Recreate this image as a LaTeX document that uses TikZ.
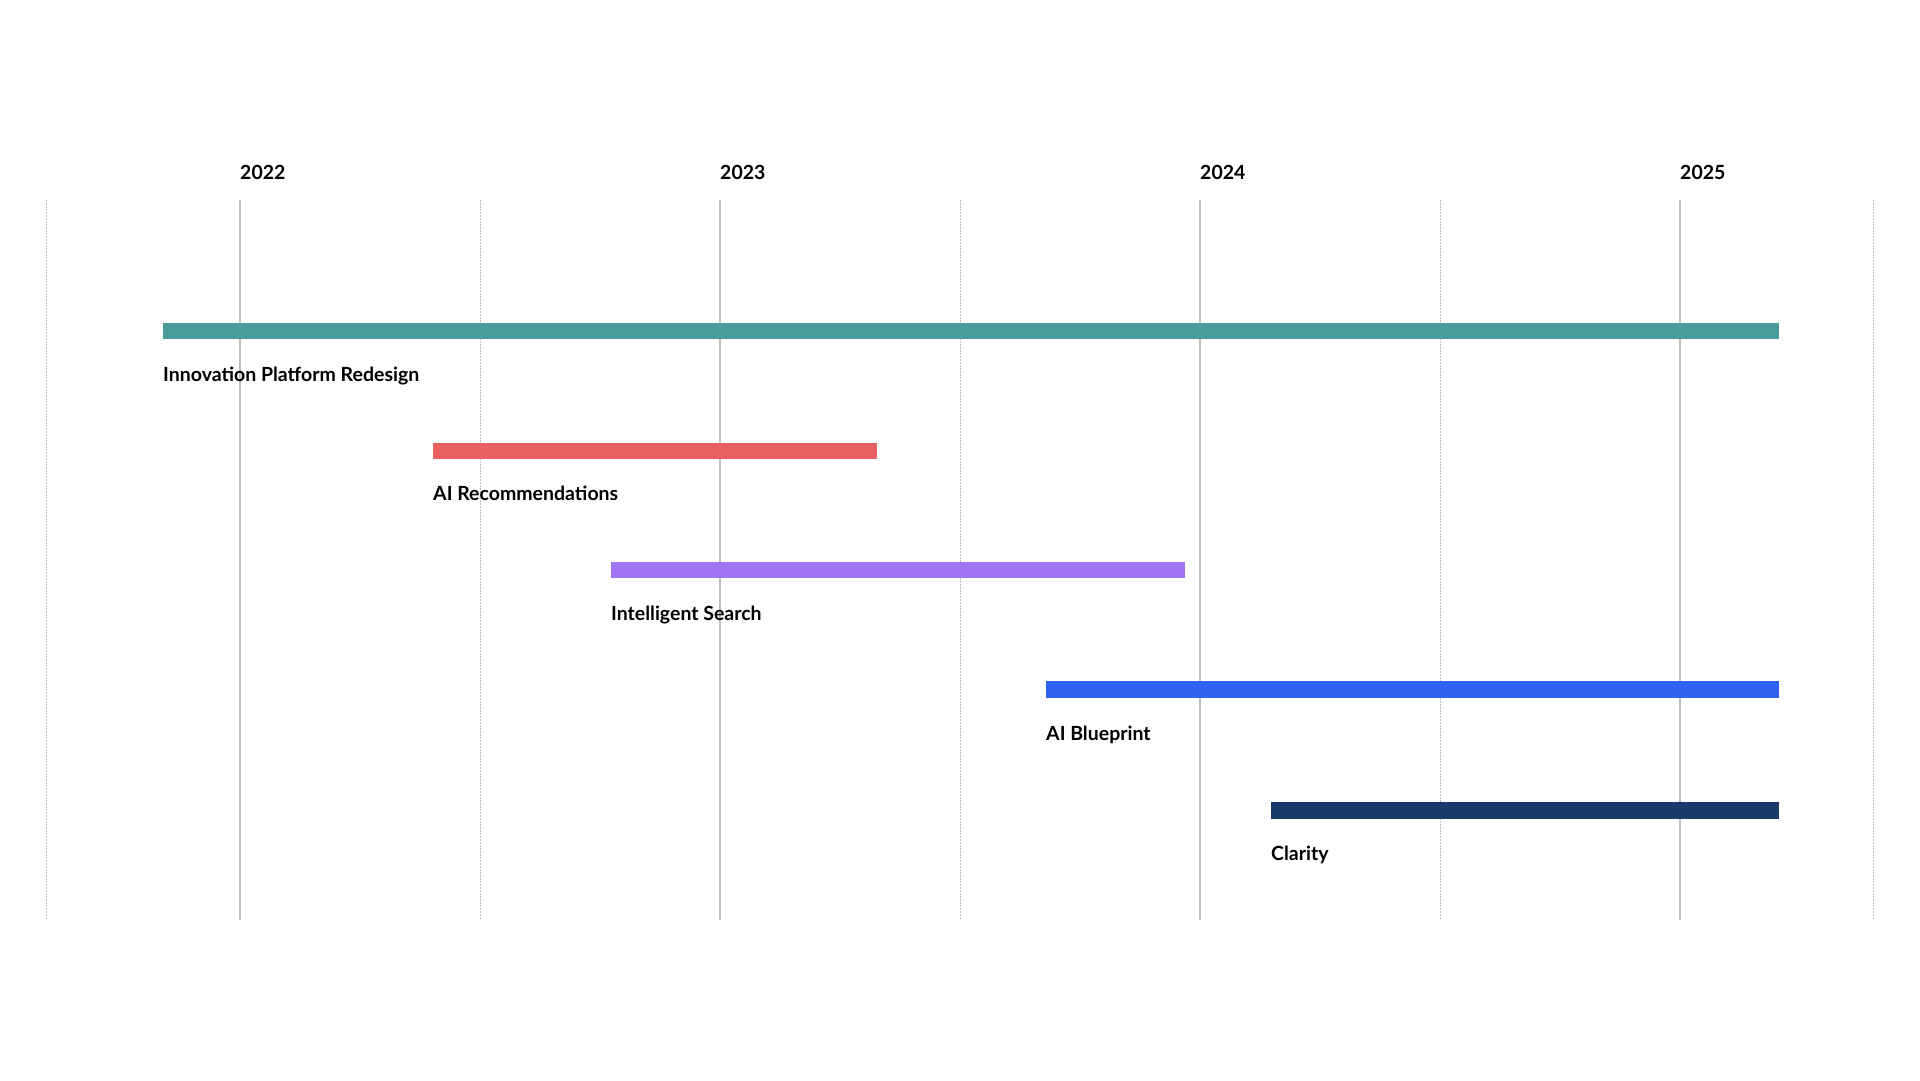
\documentclass[tikz,border=0pt]{standalone}
\usepackage{fontspec}
\setmainfont{Lato}
\definecolor{teal}{RGB}{74,156,153}
\definecolor{coral}{RGB}{232,96,96}
\definecolor{violet}{RGB}{160,116,245}
\definecolor{royal}{RGB}{47,98,240}
\definecolor{navy}{RGB}{26,58,108}
\definecolor{gridgray}{RGB}{190,190,190}
\tikzset{
  yearline/.style={gridgray, line width=1.5pt},
  halfline/.style={gridgray, line width=0.8pt, dash pattern=on 1.5pt off 1.5pt},
  yearlabel/.style={anchor=base west, inner sep=0pt, font=\bfseries\fontsize{19.5}{23}\selectfont},
  tasklabel/.style={anchor=base west, inner sep=0pt, font=\bfseries\fontsize{19.5}{23}\selectfont},
}
\begin{document}
\begin{tikzpicture}[x=1pt, y=-1pt]
    \useasboundingbox (0,0) rectangle (1920,1080);
    % grid
    \foreach \x in {46,480,960,1440,1873}
        \draw[halfline] (\x,200) -- (\x,920);
    \foreach \x/\yr in {240/2022,720/2023,1200/2024,1680/2025} {
        \draw[yearline] (\x,200) -- (\x,920);
        \node[yearlabel] (y\yr) at (\x,179) {\yr};
    }
    % bars
    \fill[teal] (163,323) rectangle (1779,339);
    \node[tasklabel] (platform) at (163,381) {Innovation Platform Redesign};
    \fill[coral] (433,443) rectangle (877,459);
    \node[tasklabel] (recommend) at (433,500) {AI Recommendations};
    \fill[violet] (611,562) rectangle (1185,578);
    \node[tasklabel] (search) at (611,620) {Intelligent Search};
    \fill[royal] (1046,681) rectangle (1779,698);
    \node[tasklabel] (blueprint) at (1046,740) {AI Blueprint};
    \fill[navy] (1271,802) rectangle (1779,819);
    \node[tasklabel] (clarity) at (1271,860) {Clarity};
\end{tikzpicture}
\end{document}
